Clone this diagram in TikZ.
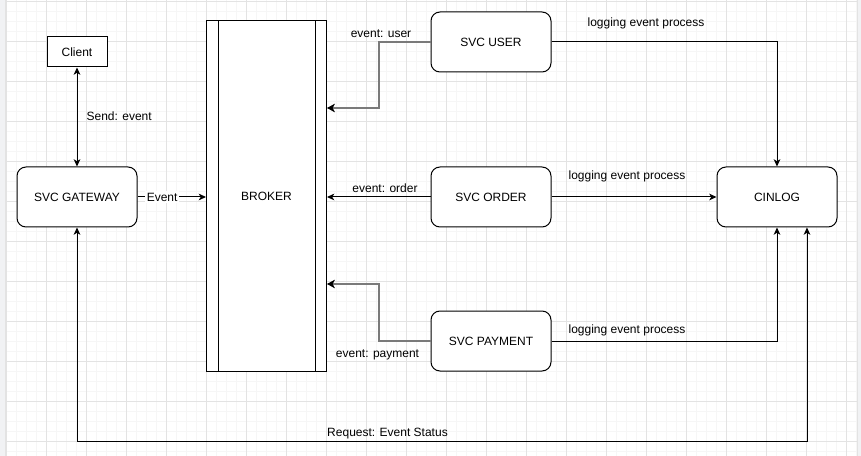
\documentclass[tikz,border=0pt]{standalone}
\usepackage{fontspec}
\setmainfont{Liberation Sans}
\usetikzlibrary{arrows.meta}
\definecolor{minorgrid}{HTML}{F6F6F6}
\definecolor{majorgrid}{HTML}{E3E3E3}
\definecolor{conngray}{HTML}{7A7A7A}
\definecolor{stripgray}{HTML}{F1F2F4}
\begin{document}
\begin{tikzpicture}[x=0.75pt,y=-0.75pt,
  font=\fontsize{9pt}{11pt}\selectfont,
  box/.style={draw, line width=0.75pt, fill=white, minimum width=90pt, minimum height=45pt, inner sep=0pt},
  rbox/.style={box, rounded corners=6.75pt},
  tip/.style={-{Stealth[length=5.5pt,width=5pt,inset=1.6pt]}},
  conn/.style={line width=0.75pt, tip},
  biconn/.style={line width=0.75pt, {Stealth[length=5.5pt,width=5pt,inset=1.6pt]}-{Stealth[length=5.5pt,width=5pt,inset=1.6pt]}},
  grayconn/.style={line width=1.5pt, draw=conngray, -{Stealth[length=6pt,width=6.5pt,inset=1.8pt,line width=0.5pt,color=black,fill=black]}},
  lbl/.style={inner sep=1pt, text=black}
]
% background and grid
\fill[white] (0,0) rectangle (861,456);
\useasboundingbox (0,0) rectangle (861,456);
\foreach \gx in {6.5,16.5,...,860} {\draw[minorgrid, line width=0.75pt] (\gx,0) -- (\gx,456);}
\foreach \gy in {1.3,11.3,...,455} {\draw[minorgrid, line width=0.75pt] (0,\gy) -- (861,\gy);}
\foreach \gx in {6.5,46.5,...,860} {\draw[majorgrid, line width=0.75pt] (\gx,0) -- (\gx,456);}
\foreach \gy in {1.3,41.3,...,455} {\draw[majorgrid, line width=0.75pt] (0,\gy) -- (861,\gy);}
\fill[stripgray] (0,0) rectangle (5.5,456);
\draw[majorgrid, line width=0.75pt] (5.5,0) -- (5.5,456);
\fill[stripgray] (857.5,0) rectangle (861,456);
\draw[majorgrid, line width=0.75pt] (857.5,0) -- (857.5,456);

% nodes
\node[box, minimum width=45pt, minimum height=22.5pt] (client) at (77,52) {Client};
\node[rbox] (gateway) at (77,197) {SVC GATEWAY};
\node[box, minimum width=90pt, minimum height=262.5pt] (broker) at (266.5,196) {BROKER};
\draw[line width=0.75pt] ([xshift=9pt]broker.north west) -- ([xshift=9pt]broker.south west);
\draw[line width=0.75pt] ([xshift=-9pt]broker.north east) -- ([xshift=-9pt]broker.south east);
\node[rbox] (user) at (491,42) {SVC USER};
\node[rbox] (order) at (491,197) {SVC ORDER};
\node[rbox] (payment) at (491,341) {SVC PAYMENT};
\node[rbox] (cinlog) at (777,197) {CINLOG};

% connectors
\draw[biconn] (client.south) -- (gateway.north);
\node[lbl, anchor=west] (lsend) at (85,116) {Send: event};

\draw[conn] (gateway.east) -- (broker.west |- gateway.east)
  node[pos=0.36, fill=white, inner sep=1pt] (levent) {Event};

\draw[grayconn] (user.west) -- (379,42) -- (379,108) -- (broker.east |- 0,108);
\node[lbl] (luser) at (381,33.5) {event: user};

\draw[conn] (order.west) -- (broker.east |- order.west);
\node[lbl] (lorder) at (385,188.5) {event: order};

\draw[grayconn] (payment.west) -- (379,341) -- (379,284) -- (broker.east |- 0,284);
\node[lbl] (lpayment) at (377.5,354.5) {event: payment};

\draw[conn] (user.east) -| (cinlog.north);
\node[lbl] (llog1) at (646,23.5) {logging event process};

\draw[conn] (order.east) -- (cinlog.west);
\node[lbl] (llog2) at (627,176.5) {logging event process};

\draw[conn] (payment.east) -| (cinlog.south);
\node[lbl] (llog3) at (627,330.5) {logging event process};

\draw[biconn] (gateway.south) -- (77,441) -| ([xshift=22.5pt]cinlog.south);
\node[lbl] (lreq) at (387.5,433.5) {Request: Event Status};
\end{tikzpicture}
\end{document}
